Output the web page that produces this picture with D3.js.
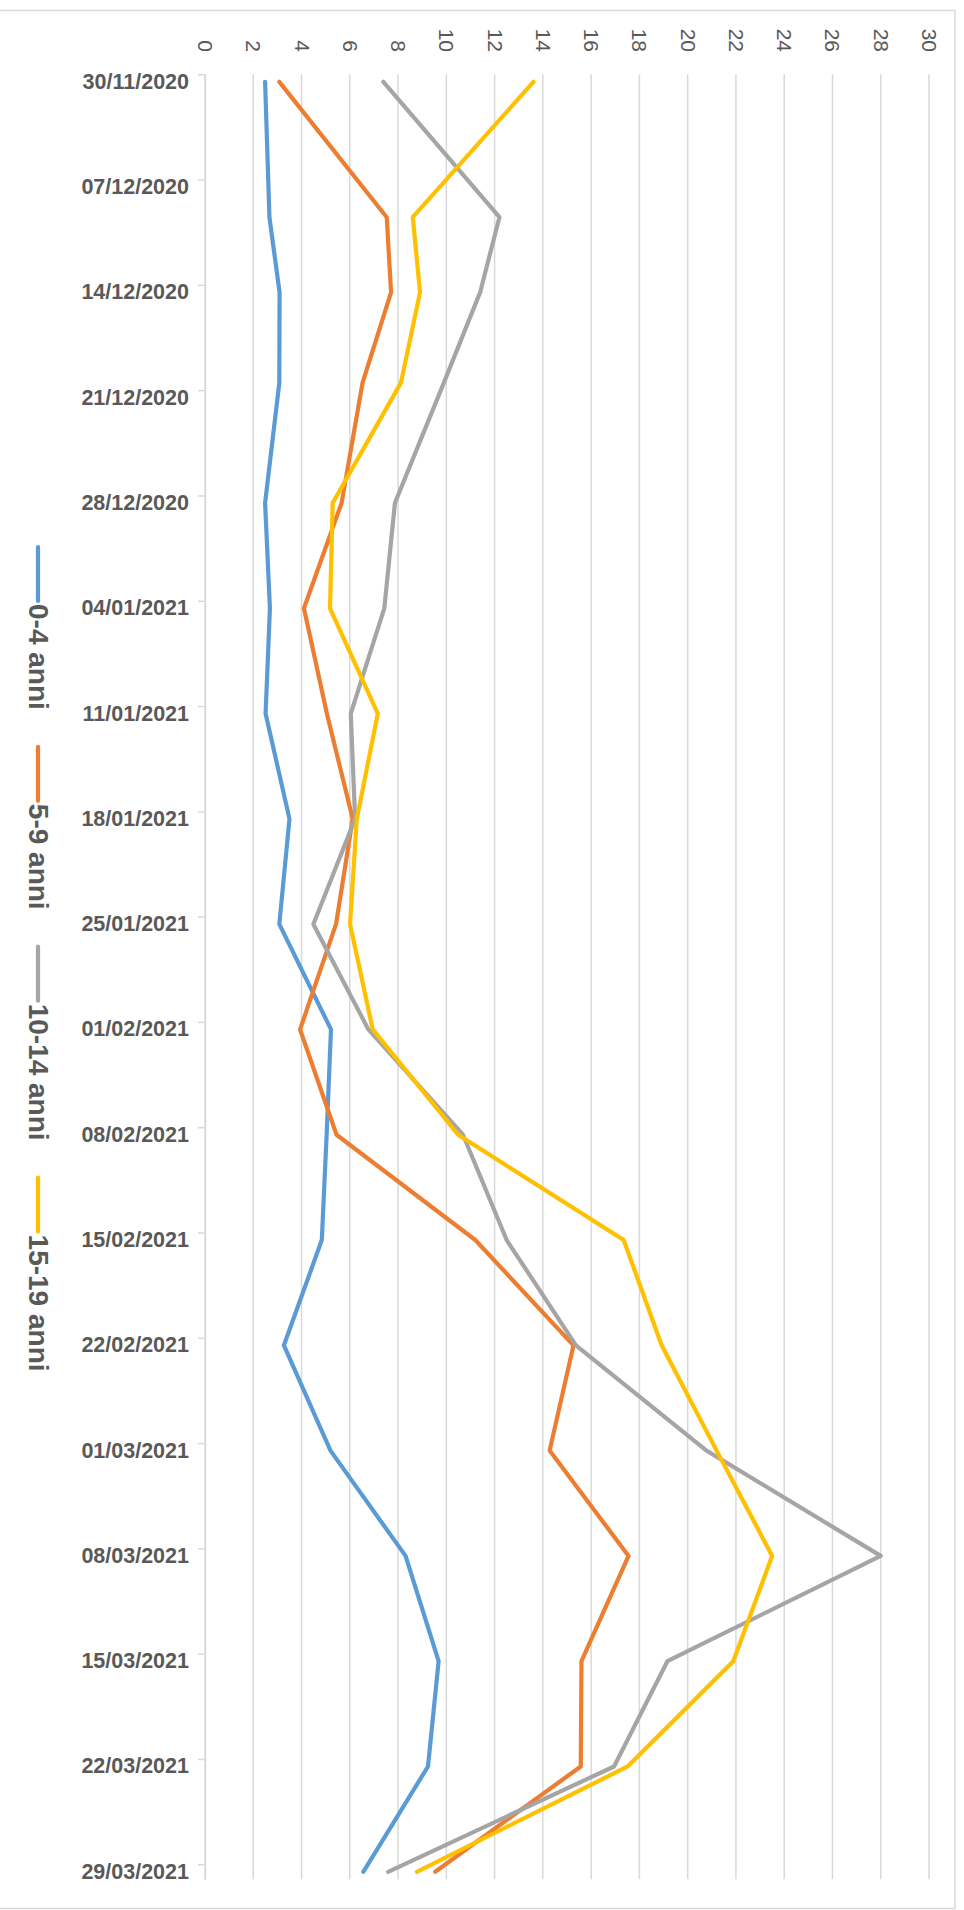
<!DOCTYPE html>
<html>
<head>
<meta charset="utf-8">
<script src="https://cdn.jsdelivr.net/npm/d3@7/dist/d3.min.js"></script>
<style>
  html, body { margin: 0; padding: 0; background: #fff; }
  svg { display: block; font-family: "Liberation Sans", Arial, sans-serif; }
</style>
</head>
<body>
<svg id="chart" width="964" height="1910"></svg>
<script>
// Weekly reporting dates (some weeks reported on an off day)
const dates = ["2020-11-30","2020-12-09","2020-12-14","2020-12-20","2020-12-28","2021-01-04",
  "2021-01-11","2021-01-18","2021-01-25","2021-02-01","2021-02-08","2021-02-15","2021-02-22",
  "2021-03-01","2021-03-08","2021-03-15","2021-03-22","2021-03-29"];

// Values per age group
const age0_4   = [2.49, 2.67, 3.09, 3.08, 2.49, 2.69, 2.51, 3.50, 3.08, 5.22, 5.04, 4.84, 3.27, 5.20, 8.31, 9.68, 9.24, 6.56];
const age5_9   = [3.08, 7.53, 7.71, 6.53, 5.66, 4.10, 5.05, 6.12, 5.43, 3.94, 5.45, 11.20, 15.27, 14.28, 17.55, 15.60, 15.57, 9.54];
const age10_14 = [7.39, 12.20, 11.40, 9.90, 7.87, 7.43, 6.04, 6.22, 4.49, 6.77, 10.69, 12.50, 15.37, 20.78, 28.00, 19.16, 16.95, 7.59];
const age15_19 = [13.61, 8.61, 8.91, 8.12, 5.29, 5.18, 7.16, 6.29, 6.01, 6.95, 10.49, 17.35, 18.92, 21.20, 23.50, 21.89, 17.51, 8.78];

const seriesNames = ["0-4 anni", "5-9 anni", "10-14 anni", "15-19 anni"];
const seriesColors = ["#5B9BD5", "#ED7D31", "#A5A5A5", "#FFC000"];

// Axis settings
const valueTicks = d3.range(0, 31, 2);
const dateTickStart = "2020-11-30";
const dateTickEnd = "2021-03-29";
const dateDomainEnd = "2021-03-30";

const parse = d3.utcParse("%Y-%m-%d");
const fmt = d3.utcFormat("%d/%m/%Y");
const textColor = "#595959";
const gridColor = "#d9d9d9";

const svg = d3.select("#chart");

// chart frame
svg.append("rect")
  .attr("x", -2).attr("y", 10.5)
  .attr("width", 957).attr("height", 1898)
  .attr("fill", "#fff").attr("stroke", gridColor).attr("stroke-width", 1.5);

const plotTop = 74.3, plotBottom = 1879.3, plotLeft = 205, plotRight = 929;

const x = d3.scaleLinear().domain([0, 30]).range([plotLeft, plotRight]);
const y = d3.scaleUtc().domain([parse(dateTickStart), parse(dateDomainEnd)]).range([plotTop, plotBottom]);

// each day is a slot; points and labels sit at the middle of the day
const mid = d => new Date(d.getTime() + 12 * 3600 * 1000);

// value gridlines
svg.append("g").selectAll("line")
  .data(valueTicks)
  .join("line")
  .attr("x1", d => x(d)).attr("x2", d => x(d))
  .attr("y1", plotTop).attr("y2", plotBottom)
  .attr("stroke", gridColor).attr("stroke-width", 1.5);

// value axis labels along the top, rotated
const topAxis = svg.append("g")
  .call(d3.axisTop(x).tickValues(valueTicks).tickSize(0).tickPadding(0));
topAxis.select(".domain").remove();
topAxis.selectAll("text")
  .attr("x", 0).attr("y", 0).attr("dy", null)
  .attr("transform", "translate(0,52) rotate(90)")
  .attr("text-anchor", "end")
  .attr("dominant-baseline", "central")
  .attr("fill", textColor)
  .style("font-size", "21px")
  .style("font-family", "'Liberation Sans', Arial, sans-serif");

// date axis: tick marks at the start of each labelled day
const weekly = d3.utcDay.every(7).range(parse(dateTickStart), d3.utcDay.offset(parse(dateTickEnd), 1))
  .filter(d => d >= parse(dateTickStart));
const weeklyTicks = d3.range(0, 18).map(i => d3.utcDay.offset(parse(dateTickStart), i * 7));

const leftAxis = svg.append("g")
  .attr("transform", `translate(${plotLeft},0)`)
  .call(d3.axisLeft(y).tickValues(weeklyTicks).tickSize(7).tickSizeOuter(0).tickFormat(""));
leftAxis.select(".domain").attr("stroke", gridColor).attr("stroke-width", 1.5);
leftAxis.selectAll(".tick line").attr("stroke", gridColor).attr("stroke-width", 1.5);

svg.append("g").selectAll("text")
  .data(weeklyTicks)
  .join("text")
  .attr("x", 189)
  .attr("y", d => y(mid(d)))
  .attr("text-anchor", "end")
  .attr("dominant-baseline", "central")
  .attr("fill", textColor)
  .style("font-size", "21.5px")
  .style("font-weight", "bold")
  .text(d => fmt(d));

// series lines
const allSeries = [age0_4, age5_9, age10_14, age15_19];
const line = d3.line()
  .x(d => x(d.v))
  .y(d => y(mid(d.date)));

allSeries.forEach((vals, i) => {
  const pts = vals.map((v, j) => ({ date: parse(dates[j]), v }));
  svg.append("path")
    .datum(pts)
    .attr("d", line)
    .attr("fill", "none")
    .attr("stroke", seriesColors[i])
    .attr("stroke-width", 4.2)
    .attr("stroke-linejoin", "round")
    .attr("stroke-linecap", "round");
});

// legend, stacked vertically on the left, text rotated
const legendX = 38;
let cursor = 547;
const legend = svg.append("g");
seriesNames.forEach((name, i) => {
  legend.append("line")
    .attr("x1", legendX).attr("x2", legendX)
    .attr("y1", cursor).attr("y2", cursor + 54)
    .attr("stroke", seriesColors[i])
    .attr("stroke-width", 4.2)
    .attr("stroke-linecap", "round");
  const t = legend.append("text")
    .attr("transform", `translate(${legendX},${cursor + 57}) rotate(90)`)
    .attr("text-anchor", "start")
    .attr("dominant-baseline", "central")
    .attr("fill", textColor)
    .style("font-size", "28px")
    .style("font-weight", "bold")
    .text(name);
  cursor += 57 + t.node().getComputedTextLength() + 37;
});
</script>
</body>
</html>
